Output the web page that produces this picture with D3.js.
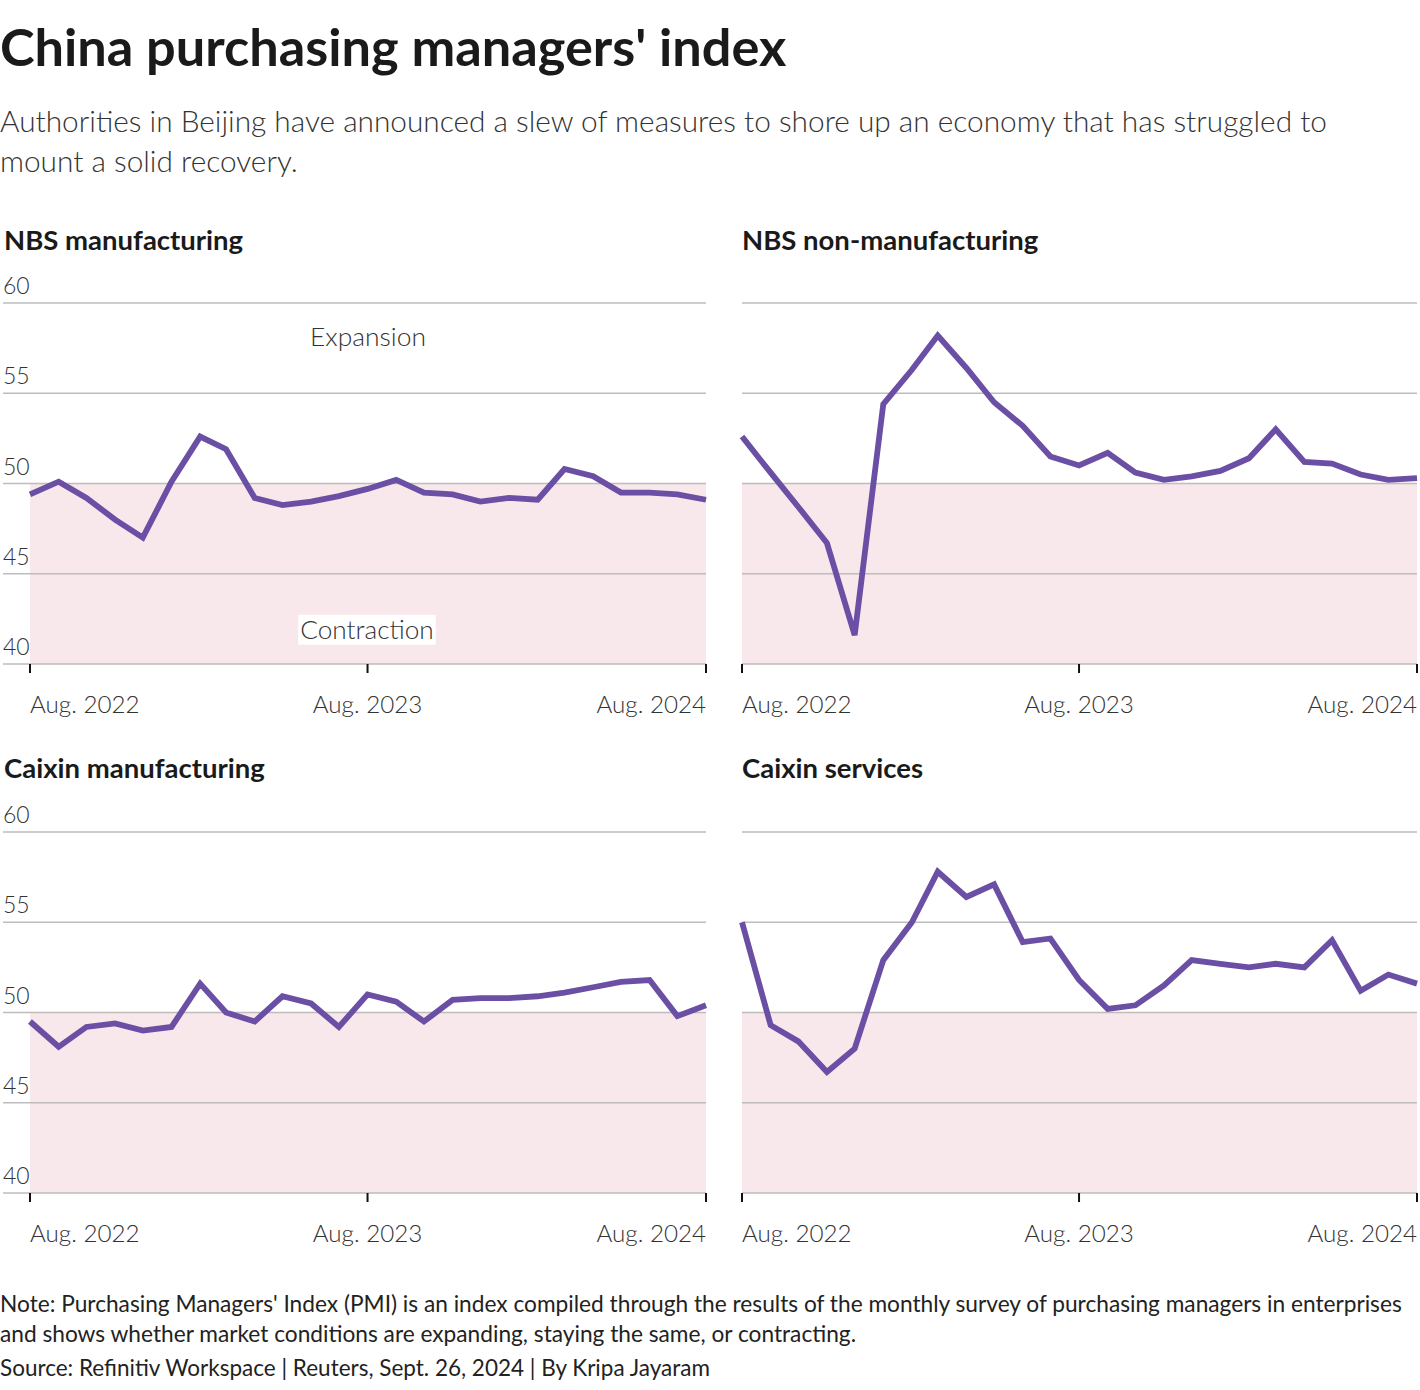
<!DOCTYPE html>
<html>
<head>
<meta charset="utf-8">
<script src="https://cdn.jsdelivr.net/npm/d3@7"></script>
<style>
  html, body { margin: 0; padding: 0; background: #fff; }
  svg { display: block; }
  text { font-family: "Source Sans Pro", "Lato", "Open Sans", sans-serif; }
</style>
</head>
<body>
<svg id="chart" width="1420" height="1390"></svg>
<script>
// ---- Data ----
const months = ["2022-08","2022-09","2022-10","2022-11","2022-12","2023-01","2023-02","2023-03","2023-04","2023-05","2023-06","2023-07","2023-08","2023-09","2023-10","2023-11","2023-12","2024-01","2024-02","2024-03","2024-04","2024-05","2024-06","2024-07","2024-08"];
const nbsManufacturing = [49.4,50.1,49.2,48.0,47.0,50.1,52.6,51.9,49.2,48.8,49.0,49.3,49.7,50.2,49.5,49.4,49.0,49.2,49.1,50.8,50.4,49.5,49.5,49.4,49.1];
const nbsNonManufacturing = [52.6,50.6,48.7,46.7,41.6,54.4,56.3,58.2,56.4,54.5,53.2,51.5,51.0,51.7,50.6,50.2,50.4,50.7,51.4,53.0,51.2,51.1,50.5,50.2,50.3];
const caixinManufacturing = [49.5,48.1,49.2,49.4,49.0,49.2,51.6,50.0,49.5,50.9,50.5,49.2,51.0,50.6,49.5,50.7,50.8,50.8,50.9,51.1,51.4,51.7,51.8,49.8,50.4];
const caixinServices = [55.0,49.3,48.4,46.7,48.0,52.9,55.0,57.8,56.4,57.1,53.9,54.1,51.8,50.2,50.4,51.5,52.9,52.7,52.5,52.7,52.5,54.0,51.2,52.1,51.6];
const panelTitles = ["NBS manufacturing","NBS non-manufacturing","Caixin manufacturing","Caixin services"];
const yTicks = [40,45,50,55,60];
const xTickDates = ["2022-08","2023-08","2024-08"];
const xTickLabels = ["Aug. 2022","Aug. 2023","Aug. 2024"];
const title = "China purchasing managers' index";
const subtitleLines = ["Authorities in Beijing have announced a slew of measures to shore up an economy that has struggled to","mount a solid recovery."];
const noteLines = ["Note: Purchasing Managers' Index (PMI) is an index compiled through the results of the monthly survey of purchasing managers in enterprises","and shows whether market conditions are expanding, staying the same, or contracting."];
const sourceLine = "Source: Refinitiv Workspace | Reuters, Sept. 26, 2024 | By Kripa Jayaram";

const seriesList = [nbsManufacturing, nbsNonManufacturing, caixinManufacturing, caixinServices];
const parse = d3.timeParse("%Y-%m");
const dates = months.map(parse);

const svg = d3.select("#chart");
const lineColor = "#6a4fa4";
const gridColor = "#bdbdbd";
const fillColor = "#f8e7eb";

// Header
svg.append("text").attr("x", 0).attr("y", 66)
  .attr("font-size", 52.3).attr("font-weight", 700).attr("fill", "#1a1a1a")
  .text(title);
subtitleLines.forEach((s, i) => {
  svg.append("text").attr("x", 0).attr("y", 132 + i * 40)
    .attr("font-size", 29.8).attr("font-weight", 300).attr("fill", "#333")
    .text(s);
});

// Panels
const panels = [
  {x0: 30, x1: 706, gridX0: 3, top: 303, bottom: 664, titleX: 4, titleY: 250, showY: true, labels: true},
  {x0: 742, x1: 1417, gridX0: 742, top: 303, bottom: 664, titleX: 742, titleY: 250, showY: false, labels: false},
  {x0: 30, x1: 706, gridX0: 3, top: 832, bottom: 1193, titleX: 4, titleY: 778, showY: true, labels: false},
  {x0: 742, x1: 1417, gridX0: 742, top: 832, bottom: 1193, titleX: 742, titleY: 778, showY: false, labels: false}
];

panels.forEach((p, idx) => {
  const g = svg.append("g");
  const x = d3.scaleTime().domain(d3.extent(dates)).range([p.x0, p.x1]);
  const y = d3.scaleLinear().domain([40, 60]).range([p.bottom, p.top]);

  g.append("text").attr("x", p.titleX).attr("y", p.titleY)
    .attr("font-size", 27.5).attr("font-weight", 700).attr("fill", "#1a1a1a")
    .text(panelTitles[idx]);

  // contraction area
  g.append("rect")
    .attr("x", x(dates[0])).attr("y", y(50))
    .attr("width", x(dates[dates.length - 1]) - x(dates[0]))
    .attr("height", y(40) - y(50))
    .attr("fill", fillColor);

  // gridlines
  g.selectAll(".grid").data(yTicks).enter().append("line")
    .attr("x1", p.gridX0).attr("x2", p.x1)
    .attr("y1", d => y(d)).attr("y2", d => y(d))
    .attr("stroke", gridColor).attr("stroke-width", 1.5);

  if (p.showY) {
    g.selectAll(".ylab").data(yTicks).enter().append("text")
      .attr("x", 3).attr("y", d => y(d) - 9)
      .attr("font-size", 23).attr("font-weight", 300).attr("fill", "#333")
      .text(d => d);
  }

  // x ticks
  const tickDates = xTickDates.map(parse);
  g.selectAll(".xtick").data(tickDates).enter().append("line")
    .attr("x1", d => x(d)).attr("x2", d => x(d))
    .attr("y1", p.bottom).attr("y2", p.bottom + 9)
    .attr("stroke", "#111").attr("stroke-width", 2);
  g.selectAll(".xlab").data(tickDates).enter().append("text")
    .attr("x", d => x(d)).attr("y", p.bottom + 49)
    .attr("text-anchor", (d, i) => i === 0 ? "start" : (i === tickDates.length - 1 ? "end" : "middle"))
    .attr("font-size", 24.2).attr("font-weight", 300).attr("fill", "#333")
    .text((d, i) => xTickLabels[i]);

  if (p.labels) {
    const mid = (p.x0 + p.x1) / 2;
    g.append("text").attr("x", mid).attr("y", y(57.6))
      .attr("text-anchor", "middle").attr("font-size", 26.4).attr("font-weight", 300).attr("fill", "#333")
      .text("Expansion");
    const ct = g.append("text").attr("x", mid - 1).attr("y", y(41.4))
      .attr("text-anchor", "middle").attr("font-size", 26.2).attr("font-weight", 300).attr("fill", "#333")
      .text("Contraction");
    const bb = ct.node().getBBox();
    g.insert("rect", "text:last-child")
      .attr("x", bb.x - 2).attr("y", bb.y + 2).attr("width", bb.width + 4).attr("height", bb.height - 2)
      .attr("fill", "#fff");
  }

  const line = d3.line().x((d, i) => x(dates[i])).y(d => y(d));
  g.append("path").datum(seriesList[idx])
    .attr("d", line).attr("fill", "none")
    .attr("stroke", lineColor).attr("stroke-width", 5.8)
    .attr("stroke-linejoin", "miter").attr("stroke-linecap", "butt");
});

// Footer
noteLines.forEach((s, i) => {
  svg.append("text").attr("x", 0).attr("y", 1312 + i * 30)
    .attr("font-size", 22.7).attr("fill", "#222").text(s);
});
svg.append("text").attr("x", 0).attr("y", 1376)
  .attr("font-size", 22.5).attr("fill", "#222").text(sourceLine);
</script>
</body>
</html>
